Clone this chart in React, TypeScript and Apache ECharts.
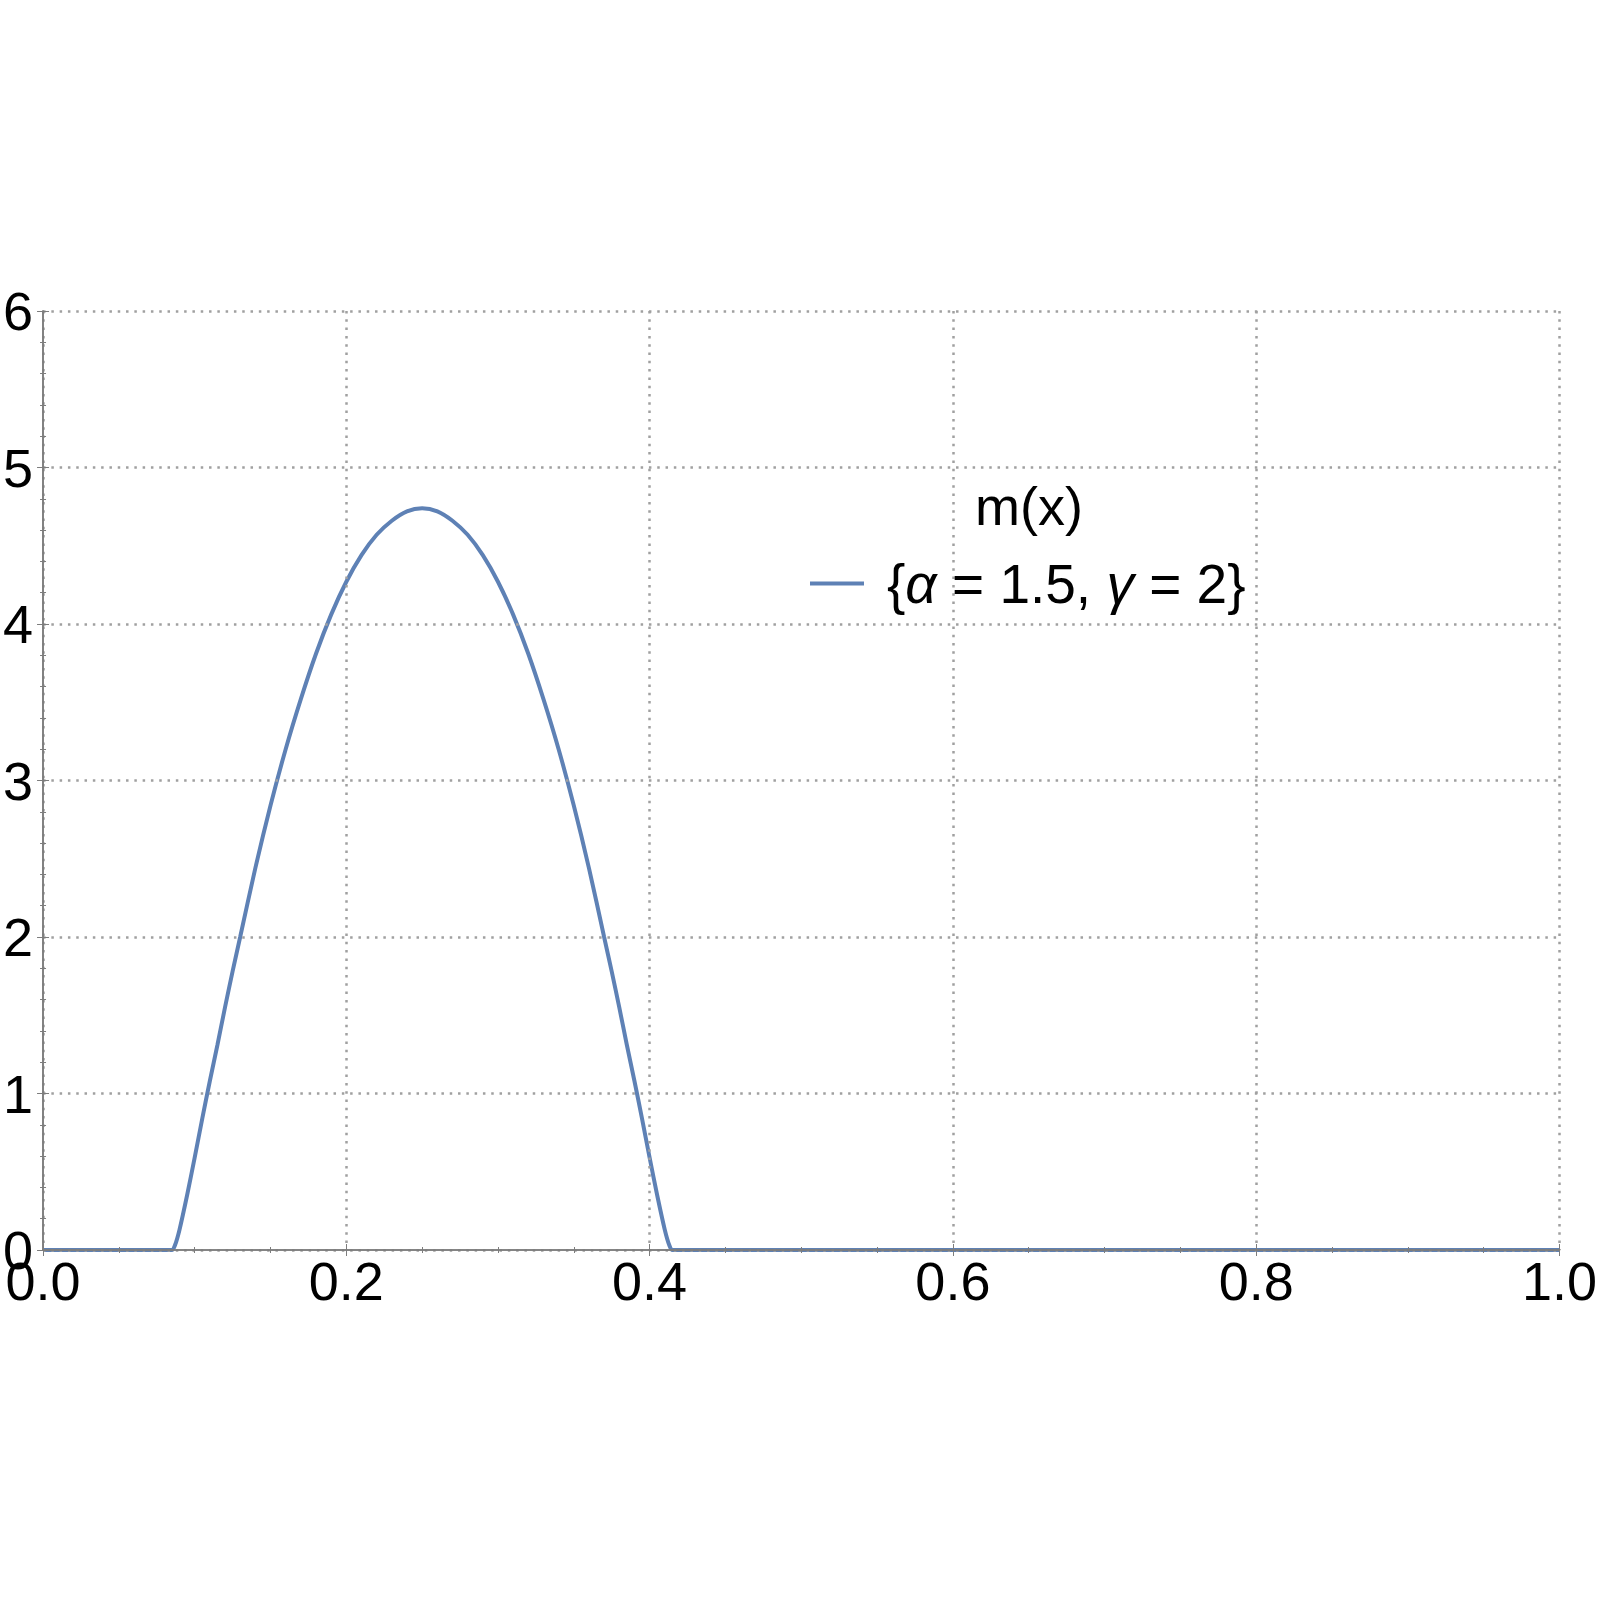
import React, { useEffect, useRef } from "react";
import * as echarts from "echarts";

const xValues = [
  0.0, 0.08, 0.085, 0.087, 0.09, 0.095, 0.1, 0.105, 0.11, 0.115, 0.12, 0.125,
  0.13, 0.14, 0.15, 0.16, 0.17, 0.18, 0.19, 0.2, 0.21, 0.22, 0.23, 0.24, 0.25,
  0.26, 0.27, 0.28, 0.29, 0.3, 0.31, 0.32, 0.33, 0.34, 0.35, 0.36, 0.37, 0.375,
  0.38, 0.385, 0.39, 0.395, 0.4, 0.405, 0.41, 0.413, 0.415, 0.42, 1.0,
];
const mValues = [
  0, 0, 0, 0.03, 0.13, 0.35, 0.59, 0.84, 1.08, 1.31, 1.55, 1.78,
  2.0, 2.44, 2.84, 3.2, 3.52, 3.81, 4.06, 4.27, 4.44, 4.57, 4.66, 4.72, 4.74,
  4.72, 4.66, 4.57, 4.44, 4.27, 4.06, 3.81, 3.52, 3.2, 2.84, 2.44, 2.0, 1.78,
  1.55, 1.31, 1.08, 0.84, 0.59, 0.35, 0.13, 0.03, 0, 0, 0,
];
const xTicks = [0, 0.2, 0.4, 0.6, 0.8, 1.0];
const yTicks = [0, 1, 2, 3, 4, 5, 6];
const seriesName = "{α = 1.5, γ = 2}";
const legendTitle = "m(x)";

const FONT = "'Liberation Sans', Arial, Helvetica, sans-serif";
const FRAME = "#7d7d7d";
const GRIDC = "#a0a0a0";
const BLUE = "#5e81b5";

export default function App() {
  const ref = useRef<HTMLDivElement>(null);
  useEffect(() => {
    if (!ref.current) return;
    const chart = echarts.init(ref.current, undefined, { renderer: "svg" });
    const data = xValues.map((x, i) => [x, mValues[i]]);
    const frameAxisCommon = {
      axisLine: { show: true, lineStyle: { color: FRAME, width: 1.6 } },
      axisTick: { show: true, inside: true, length: 6, lineStyle: { color: FRAME, width: 1 } },
      minorTick: { show: true, length: 3, lineStyle: { color: FRAME, width: 1 } },
      z: 3,
    };
    const gridLine = { show: true, lineStyle: { color: GRIDC, width: 2.5, type: [2.5, 5.8] } };
    chart.setOption({
      animation: false,
      backgroundColor: "#ffffff",
      grid: { left: 39, right: 40, top: 311, bottom: 353, containLabel: false },
      title: {
        text: legendTitle,
        left: 1024,
        top: 474,
        textAlign: "center",
        textStyle: { fontFamily: FONT, fontSize: 54, fontWeight: "normal", color: "#000" },
      },
      legend: {
        show: true,
        left: 805,
        top: 551,
        itemWidth: 54,
        itemHeight: 4,
        itemGap: 10,
        icon: "rect",
        data: [seriesName],
        formatter: () => "{b|{}{i|α}{b| = 1.5, }{i|γ}{b| = 2}}",
        textStyle: {
          fontFamily: FONT,
          fontSize: 55,
          color: "#000",
          padding: [0, 0, 0, 18],
          rich: {
            b: { fontFamily: FONT, fontSize: 55, color: "#000" },
            i: { fontFamily: FONT, fontSize: 55, fontStyle: "italic", color: "#000" },
          },
        },
      },
      xAxis: [
        {
          type: "value",
          position: "bottom",
          min: 0,
          max: 1,
          interval: 0.2,
          ...frameAxisCommon,
          minorTick: { ...frameAxisCommon.minorTick, splitNumber: 4 },
          axisLabel: {
            show: true,
            margin: 4,
            fontFamily: FONT,
            fontSize: 54,
            color: "#000",
            formatter: (v: number) => (xTicks.includes(Math.round(v * 10) / 10) ? v.toFixed(1) : ""),
          },
          splitLine: gridLine,
        },
        {
          type: "value",
          position: "top",
          min: 0,
          max: 1,
          interval: 0.2,
          ...frameAxisCommon,
          minorTick: { ...frameAxisCommon.minorTick, splitNumber: 4 },
          axisLabel: { show: false },
          splitLine: { show: false },
        },
      ],
      yAxis: [
        {
          type: "value",
          position: "left",
          min: 0,
          max: 6,
          interval: 1,
          ...frameAxisCommon,
          minorTick: { ...frameAxisCommon.minorTick, splitNumber: 5 },
          axisLabel: {
            show: true,
            margin: 10,
            fontFamily: FONT,
            fontSize: 54,
            color: "#000",
            formatter: (v: number) => (yTicks.includes(v) ? String(v) : ""),
          },
          splitLine: gridLine,
        },
        {
          type: "value",
          position: "right",
          min: 0,
          max: 6,
          interval: 1,
          ...frameAxisCommon,
          minorTick: { ...frameAxisCommon.minorTick, splitNumber: 5 },
          axisLabel: { show: false },
          splitLine: { show: false },
        },
      ],
      series: [
        {
          name: seriesName,
          type: "line",
          xAxisIndex: 0,
          yAxisIndex: 0,
          data,
          showSymbol: false,
          symbol: "none",
          smooth: 0.3,
          lineStyle: { color: BLUE, width: 4 },
          itemStyle: { color: BLUE },
          z: 2,
        },
      ],
    });
    return () => chart.dispose();
  }, []);
  return (
    <div
      ref={ref}
      style={{ position: "absolute", left: 0, top: 0, width: 1600, height: 1603 }}
    />
  );
}
